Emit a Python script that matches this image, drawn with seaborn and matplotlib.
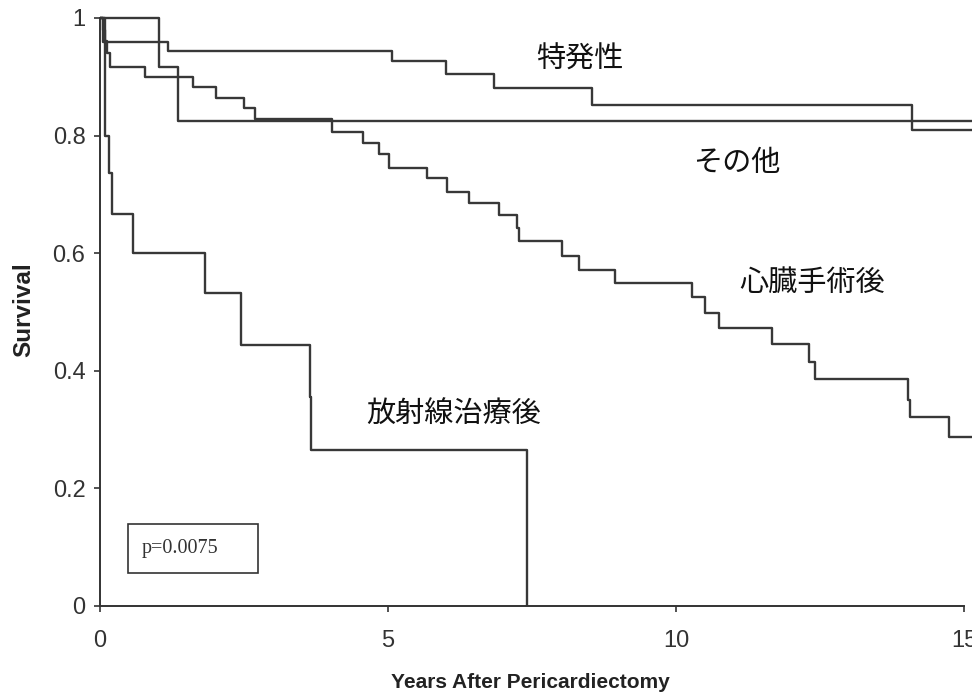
import matplotlib
matplotlib.use("Agg")
import matplotlib.pyplot as plt
from matplotlib.patches import Rectangle
import seaborn as sns
import pandas as pd

# ---- data ----
other_t = [0, 1.02, 1.35, 15.2]
other_s = [1.0, 0.917, 0.824, 0.824]

idio_t = [0, 0.05, 1.18, 5.07, 6.0, 6.84, 8.54, 14.1, 15.2]
idio_s = [1.0, 0.959, 0.944, 0.927, 0.905, 0.881, 0.852, 0.81, 0.81]

surg_t = [0, 0.05, 0.09, 0.13, 0.17, 0.78, 1.61, 2.01, 2.50, 2.69, 4.03, 4.57,
          4.84, 5.02, 5.68, 6.02, 6.41, 6.93, 7.24, 7.27, 8.02, 8.32, 8.94,
          10.28, 10.50, 10.75, 11.67, 12.31, 12.41, 14.03, 14.06, 14.74, 15.2]
surg_s = [1.0, 0.98, 0.96, 0.94, 0.917, 0.900, 0.883, 0.864, 0.847, 0.828,
          0.806, 0.787, 0.769, 0.745, 0.728, 0.704, 0.685, 0.665, 0.643, 0.621,
          0.595, 0.571, 0.549, 0.526, 0.498, 0.473, 0.446, 0.415, 0.386, 0.350,
          0.321, 0.287, 0.287]

rad_t = [0, 0.08, 0.16, 0.21, 0.57, 1.82, 2.45, 3.65, 3.67, 7.41]
rad_s = [1.0, 0.80, 0.736, 0.667, 0.600, 0.532, 0.444, 0.355, 0.265, 0.0]

group_names = ["その他", "特発性", "心臓手術後", "放射線治療後"]
label_x = [10.3, 7.58, 11.1, 4.62]
label_y = [0.753, 0.929, 0.549, 0.325]

x_ticks = [0, 5, 10, 15]
y_ticks = [0, 0.2, 0.4, 0.6, 0.8, 1.0]
y_tick_labels = ["0", "0.2", "0.4", "0.6", "0.8", "1"]
p_text = "p=0.0075"
x_label = "Years After Pericardiectomy"
y_label = "Survival"

# ---- build long-form table ----
rows = []
for name, ts, ss in zip(group_names, [other_t, idio_t, surg_t, rad_t],
                        [other_s, idio_s, surg_s, rad_s]):
    for t, s in zip(ts, ss):
        rows.append({"group": name, "time": t, "surv": s})
df = pd.DataFrame(rows)

sns.set_theme(style="ticks")
plt.rcParams["font.family"] = ["Liberation Sans", "Noto Sans CJK JP", "DejaVu Sans"]

fig = plt.figure(figsize=(9.72, 6.95), dpi=100)
ax = fig.add_axes([100 / 972, 89 / 695, 872 / 972, 594 / 695])

line_color = "#383838"
sns.lineplot(data=df, x="time", y="surv", hue="group", units="group",
             estimator=None, sort=False, drawstyle="steps-post",
             palette={g: line_color for g in group_names}, legend=False,
             linewidth=1.7, ax=ax)

ax.set_xlim(0, 15.139)
ax.set_ylim(0, 1.01)
sns.despine(ax=ax)
ax.spines["left"].set_bounds(0, 1)
ax.spines["bottom"].set_bounds(0, 15)
for sp in ["left", "bottom"]:
    ax.spines[sp].set_color("#333333")
    ax.spines[sp].set_linewidth(1.4)

ax.set_xticks(x_ticks)
ax.set_xticklabels([str(v) for v in x_ticks])
ax.set_yticks(y_ticks)
ax.set_yticklabels(y_tick_labels)
ax.tick_params(axis="both", direction="out", length=4.5, width=1.2,
               colors="#333333", labelsize=17)
ax.tick_params(axis="y", pad=6)
ax.tick_params(axis="x", pad=13)
for lab in ax.get_xticklabels() + ax.get_yticklabels():
    lab.set_color("#333333")

ax.set_xlabel("")
ax.set_ylabel("")
fig.text(530 / 972, 1 - 683 / 695, x_label, ha="center", va="center",
         fontsize=15, fontweight="bold", color="#222222",
         family=["Liberation Sans", "DejaVu Sans"])
fig.text(24 / 972, 1 - 310 / 695, y_label, ha="center", va="center",
         rotation=90, fontsize=17.5, fontweight="bold", color="#222222",
         family=["Liberation Sans", "DejaVu Sans"])

for name, lx, ly in zip(group_names, label_x, label_y):
    ax.text(lx, ly, name, ha="left", va="center", fontsize=21,
            color="#111111", family=["Noto Sans CJK JP", "DejaVu Sans"])

# p-value box
ax.add_patch(Rectangle((0.49, 0.056), 2.25, 0.083, fill=False,
                       edgecolor="#333333", linewidth=1.2))
ax.text(0.73, 0.098, p_text, ha="left", va="center", fontsize=14.5,
        color="#333333", family=["Liberation Serif", "DejaVu Serif"])

fig.savefig("out.png", dpi=100)
